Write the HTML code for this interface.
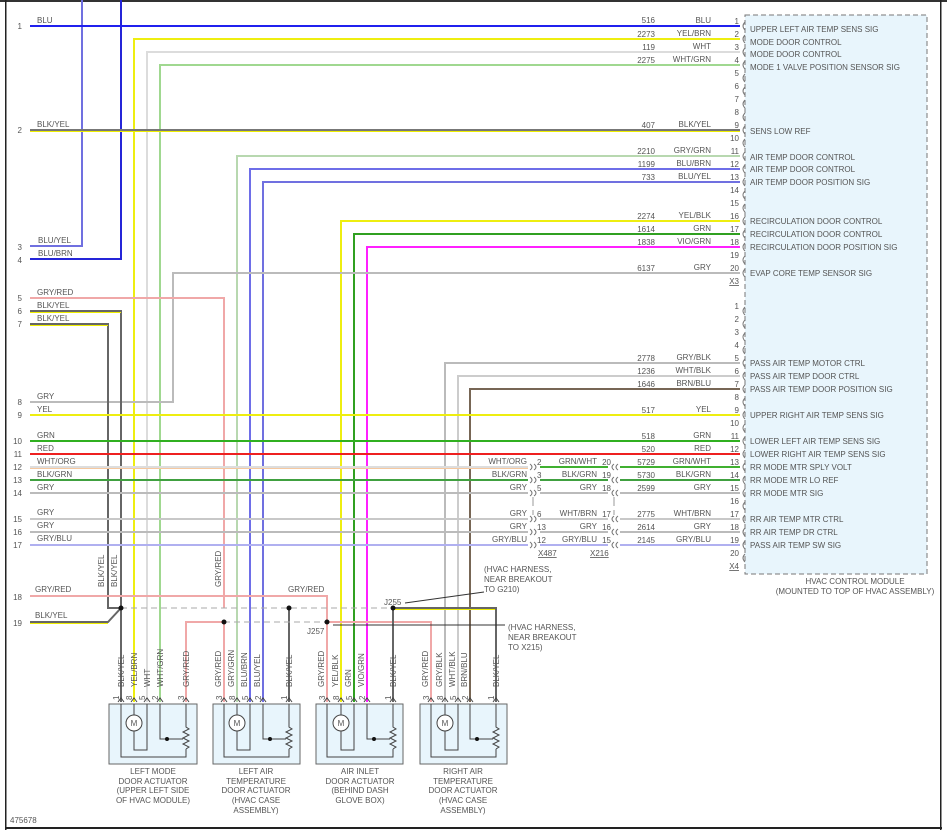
<!DOCTYPE html>
<html><head><meta charset="utf-8"><style>
body{margin:0;background:#fff}
svg{display:block}
text{font-family:"Liberation Sans",sans-serif;font-size:8px;fill:#555}
.e{text-anchor:end}.m{text-anchor:middle}
</style></head><body>
<svg width="947" height="836" viewBox="0 0 947 836" xmlns="http://www.w3.org/2000/svg">
<rect x="0" y="0" width="947" height="2" fill="#333"/>
<rect x="5" y="0" width="1.5" height="830" fill="#222"/>
<rect x="940" y="0" width="1.5" height="830" fill="#222"/>
<rect x="5" y="827" width="937" height="2" fill="#222"/>
<rect x="745" y="15" width="182" height="559" fill="#e8f5fc" stroke="#777" stroke-dasharray="5,3"/>
<g fill="none" stroke-width="2">
<path d="M82 0V246H30" stroke="#7070e0"/>
<path d="M121 0V259H30" stroke="#2525d8"/>
<path d="M30 26H740" stroke="#2020ee"/>
<path d="M740 39H134V702" stroke="#eeee10"/>
<path d="M740 52H147V702" stroke="#dcdcdc"/>
<path d="M740 65H160V702" stroke="#a0d890"/>
<path d="M30 130H740" stroke="#777"/>
<path d="M740 156H237V702" stroke="#b8d8b0"/>
<path d="M740 169H250V702" stroke="#6e6ee8"/>
<path d="M740 182H263V702" stroke="#7070e0"/>
<path d="M740 221H341V702" stroke="#eeee10"/>
<path d="M740 234H354V702" stroke="#30a020"/>
<path d="M740 247H367V702" stroke="#ff20ff"/>
<path d="M740 273H173V402H30" stroke="#bbb"/>
<path d="M30 298H224V608" stroke="#f0a8a8"/>
<path d="M224 622V702" stroke="#f0a8a8"/>
<path d="M30 311H121V702" stroke="#666"/>
<path d="M30 324H108V608H121" stroke="#666"/>
<path d="M30 622H108L121 608" stroke="#666"/>
<path d="M740 363H445V702" stroke="#bbb"/>
<path d="M740 376H458V702" stroke="#ccc"/>
<path d="M740 389H470V702" stroke="#776655"/>
<path d="M30 415H740" stroke="#eeee10"/>
<path d="M30 441H740" stroke="#30b020"/>
<path d="M30 454H740" stroke="#ee2020"/>
<path d="M30 467H528" stroke="#ddd"/><path d="M540 467H608M620 467H740" stroke="#40b030"/>
<path d="M30 480H528M540 480H608M620 480H740" stroke="#40a040"/>
<path d="M30 493H528M540 493H608M620 493H740" stroke="#bbb"/>
<path d="M30 519H528M540 519H608M620 519H740" stroke="#c8c8c8"/>
<path d="M30 532H528M540 532H608M620 532H740" stroke="#bbb"/>
<path d="M30 545H528M540 545H608M620 545H740" stroke="#b0b0f0"/>
<path d="M30 596H327V622" stroke="#f0a8a8"/>
<path d="M224 622H186V702" stroke="#f0a8a8"/>
<path d="M327 622H431V702" stroke="#f0a8a8"/>
<path d="M327 622V702" stroke="#f0a8a8"/>
<path d="M393 608H496V702" stroke="#666"/>
<path d="M289 608V702M393 608V702" stroke="#666"/>
</g>
<g fill="none" stroke-width="1">
<path d="M30 131.5H740M30 312.5H121M30 325.5H108M30 623.5H108M394 609.5H495" stroke="#ee0"/>
<path d="M30 468.5H528" stroke="#f5c8a0"/>
<path d="M121 608H393M224 622H327" stroke="#aaa" stroke-dasharray="6,4"/>
<path d="M533 497V506M533 510V515M614 497V506M614 510V515" stroke="#999"/>
<path d="M484 592L405 603M505 625L333 625" stroke="#333"/>
</g>
<g fill="#111"><circle cx="121" cy="608" r="2.5"/><circle cx="289" cy="608" r="2.5"/><circle cx="393" cy="608" r="2.5"/><circle cx="224" cy="622" r="2.5"/><circle cx="327" cy="622" r="2.5"/></g>
<g fill="none" stroke="#777">
<path d="M745 22q-4 4 0 8M745 35q-4 4 0 8M745 48q-4 4 0 8M745 61q-4 4 0 8M745 74q-4 4 0 8M745 87q-4 4 0 8M745 100q-4 4 0 8M745 113q-4 4 0 8M745 126q-4 4 0 8M745 139q-4 4 0 8M745 152q-4 4 0 8M745 165q-4 4 0 8M745 178q-4 4 0 8M745 191q-4 4 0 8M745 204q-4 4 0 8M745 217q-4 4 0 8M745 230q-4 4 0 8M745 243q-4 4 0 8M745 256q-4 4 0 8M745 269q-4 4 0 8"/>
<path d="M745 307q-4 4 0 8M745 320q-4 4 0 8M745 333q-4 4 0 8M745 346q-4 4 0 8M745 359q-4 4 0 8M745 372q-4 4 0 8M745 385q-4 4 0 8M745 398q-4 4 0 8M745 411q-4 4 0 8M745 424q-4 4 0 8M745 437q-4 4 0 8M745 450q-4 4 0 8M745 463q-4 4 0 8M745 476q-4 4 0 8M745 489q-4 4 0 8M745 502q-4 4 0 8M745 515q-4 4 0 8M745 528q-4 4 0 8M745 541q-4 4 0 8M745 554q-4 4 0 8"/>
<path d="M530 464q4 3 0 6M534 464q4 3 0 6M530 477q4 3 0 6M534 477q4 3 0 6M530 490q4 3 0 6M534 490q4 3 0 6M530 516q4 3 0 6M534 516q4 3 0 6M530 529q4 3 0 6M534 529q4 3 0 6M530 542q4 3 0 6M534 542q4 3 0 6"/>
<path d="M614 464q-4 3 0 6M618 464q-4 3 0 6M614 477q-4 3 0 6M618 477q-4 3 0 6M614 490q-4 3 0 6M618 490q-4 3 0 6M614 516q-4 3 0 6M618 516q-4 3 0 6M614 529q-4 3 0 6M618 529q-4 3 0 6M614 542q-4 3 0 6M618 542q-4 3 0 6"/>
</g>
<g class="e">
<text x="22" y="29" class="e">1</text><text x="22" y="133" class="e">2</text><text x="22" y="250" class="e">3</text><text x="22" y="263" class="e">4</text><text x="22" y="301" class="e">5</text><text x="22" y="314" class="e">6</text><text x="22" y="327" class="e">7</text><text x="22" y="405" class="e">8</text><text x="22" y="418" class="e">9</text><text x="22" y="444" class="e">10</text><text x="22" y="457" class="e">11</text><text x="22" y="470" class="e">12</text><text x="22" y="483" class="e">13</text><text x="22" y="496" class="e">14</text><text x="22" y="522" class="e">15</text><text x="22" y="535" class="e">16</text><text x="22" y="548" class="e">17</text><text x="22" y="600" class="e">18</text><text x="22" y="626" class="e">19</text>
</g>
<text x="37" y="23">BLU</text><text x="37" y="127">BLK/YEL</text><text x="38" y="243">BLU/YEL</text><text x="38" y="256">BLU/BRN</text><text x="37" y="295">GRY/RED</text><text x="37" y="308">BLK/YEL</text><text x="37" y="321">BLK/YEL</text><text x="37" y="399">GRY</text><text x="37" y="412">YEL</text><text x="37" y="438">GRN</text><text x="37" y="451">RED</text><text x="37" y="464">WHT/ORG</text><text x="37" y="477">BLK/GRN</text><text x="37" y="490">GRY</text><text x="37" y="515">GRY</text><text x="37" y="528">GRY</text><text x="37" y="541">GRY/BLU</text><text x="35" y="592">GRY/RED</text><text x="35" y="618">BLK/YEL</text>
<text x="288" y="592">GRY/RED</text><text x="384" y="605">J255</text><text x="307" y="634">J257</text>
<text x="484" y="572">(HVAC HARNESS,</text><text x="484" y="582">NEAR BREAKOUT</text><text x="484" y="592">TO G210)</text>
<text x="508" y="630">(HVAC HARNESS,</text><text x="508" y="640">NEAR BREAKOUT</text><text x="508" y="650">TO X215)</text>
<g transform="rotate(-90)">
<text x="-587" y="104">BLK/YEL</text><text x="-587" y="117">BLK/YEL</text><text x="-587" y="221">GRY/RED</text>
</g>
<g>
<text x="655" y="23" class="e">516</text><text x="711" y="23" class="e">BLU</text>
<text x="655" y="37" class="e">2273</text><text x="711" y="36" class="e">YEL/BRN</text>
<text x="655" y="50" class="e">119</text><text x="711" y="49" class="e">WHT</text>
<text x="655" y="63" class="e">2275</text><text x="711" y="62" class="e">WHT/GRN</text>
<text x="655" y="128" class="e">407</text><text x="711" y="127" class="e">BLK/YEL</text>
<text x="655" y="154" class="e">2210</text><text x="711" y="153" class="e">GRY/GRN</text>
<text x="655" y="167" class="e">1199</text><text x="711" y="166" class="e">BLU/BRN</text>
<text x="655" y="180" class="e">733</text><text x="711" y="179" class="e">BLU/YEL</text>
<text x="655" y="219" class="e">2274</text><text x="711" y="218" class="e">YEL/BLK</text>
<text x="655" y="232" class="e">1614</text><text x="711" y="231" class="e">GRN</text>
<text x="655" y="245" class="e">1838</text><text x="711" y="244" class="e">VIO/GRN</text>
<text x="655" y="271" class="e">6137</text><text x="711" y="270" class="e">GRY</text>
<text x="655" y="361" class="e">2778</text><text x="711" y="360" class="e">GRY/BLK</text>
<text x="655" y="374" class="e">1236</text><text x="711" y="373" class="e">WHT/BLK</text>
<text x="655" y="387" class="e">1646</text><text x="711" y="386" class="e">BRN/BLU</text>
<text x="655" y="413" class="e">517</text><text x="711" y="412" class="e">YEL</text>
<text x="655" y="439" class="e">518</text><text x="711" y="438" class="e">GRN</text>
<text x="655" y="452" class="e">520</text><text x="711" y="451" class="e">RED</text>
<text x="655" y="465" class="e">5729</text><text x="711" y="464" class="e">GRN/WHT</text>
<text x="655" y="478" class="e">5730</text><text x="711" y="477" class="e">BLK/GRN</text>
<text x="655" y="491" class="e">2599</text><text x="711" y="490" class="e">GRY</text>
<text x="655" y="517" class="e">2775</text><text x="711" y="516" class="e">WHT/BRN</text>
<text x="655" y="530" class="e">2614</text><text x="711" y="529" class="e">GRY</text>
<text x="655" y="543" class="e">2145</text><text x="711" y="542" class="e">GRY/BLU</text>
<text x="527" y="464" class="e">WHT/ORG</text><text x="527" y="477" class="e">BLK/GRN</text><text x="527" y="490" class="e">GRY</text><text x="527" y="516" class="e">GRY</text><text x="527" y="529" class="e">GRY</text><text x="527" y="542" class="e">GRY/BLU</text>
<text x="537" y="465">2</text><text x="537" y="478">3</text><text x="537" y="491">5</text><text x="537" y="517">6</text><text x="537" y="530">13</text><text x="537" y="543">12</text>
<text x="597" y="464" class="e">GRN/WHT</text><text x="597" y="477" class="e">BLK/GRN</text><text x="597" y="490" class="e">GRY</text><text x="597" y="516" class="e">WHT/BRN</text><text x="597" y="529" class="e">GRY</text><text x="597" y="542" class="e">GRY/BLU</text>
<text x="611" y="465" class="e">20</text><text x="611" y="478" class="e">19</text><text x="611" y="491" class="e">18</text><text x="611" y="517" class="e">17</text><text x="611" y="530" class="e">16</text><text x="611" y="543" class="e">15</text>
<text x="538" y="556" text-decoration="underline">X487</text><text x="590" y="556" text-decoration="underline">X216</text>
</g>
<g class="e">
<text x="739" y="24" class="e">1</text><text x="739" y="37" class="e">2</text><text x="739" y="50" class="e">3</text><text x="739" y="63" class="e">4</text><text x="739" y="76" class="e">5</text><text x="739" y="89" class="e">6</text><text x="739" y="102" class="e">7</text><text x="739" y="115" class="e">8</text><text x="739" y="128" class="e">9</text><text x="739" y="141" class="e">10</text><text x="739" y="154" class="e">11</text><text x="739" y="167" class="e">12</text><text x="739" y="180" class="e">13</text><text x="739" y="193" class="e">14</text><text x="739" y="206" class="e">15</text><text x="739" y="219" class="e">16</text><text x="739" y="232" class="e">17</text><text x="739" y="245" class="e">18</text><text x="739" y="258" class="e">19</text><text x="739" y="271" class="e">20</text>
<text x="739" y="284" class="e" text-decoration="underline">X3</text>
<text x="739" y="309" class="e">1</text><text x="739" y="322" class="e">2</text><text x="739" y="335" class="e">3</text><text x="739" y="348" class="e">4</text><text x="739" y="361" class="e">5</text><text x="739" y="374" class="e">6</text><text x="739" y="387" class="e">7</text><text x="739" y="400" class="e">8</text><text x="739" y="413" class="e">9</text><text x="739" y="426" class="e">10</text><text x="739" y="439" class="e">11</text><text x="739" y="452" class="e">12</text><text x="739" y="465" class="e">13</text><text x="739" y="478" class="e">14</text><text x="739" y="491" class="e">15</text><text x="739" y="504" class="e">16</text><text x="739" y="517" class="e">17</text><text x="739" y="530" class="e">18</text><text x="739" y="543" class="e">19</text><text x="739" y="556" class="e">20</text>
<text x="739" y="569" class="e" text-decoration="underline">X4</text>
</g>
<g>
<text x="750" y="32">UPPER LEFT AIR TEMP SENS SIG</text><text x="750" y="45">MODE DOOR CONTROL</text><text x="750" y="57">MODE DOOR CONTROL</text><text x="750" y="70">MODE 1 VALVE POSITION SENSOR SIG</text>
<text x="750" y="134">SENS LOW REF</text><text x="750" y="160">AIR TEMP DOOR CONTROL</text><text x="750" y="172">AIR TEMP DOOR CONTROL</text><text x="750" y="185">AIR TEMP DOOR POSITION SIG</text>
<text x="750" y="224">RECIRCULATION DOOR CONTROL</text><text x="750" y="237">RECIRCULATION DOOR CONTROL</text><text x="750" y="250">RECIRCULATION DOOR POSITION SIG</text><text x="750" y="276">EVAP CORE TEMP SENSOR SIG</text>
<text x="750" y="366">PASS AIR TEMP MOTOR CTRL</text><text x="750" y="379">PASS AIR TEMP DOOR CTRL</text><text x="750" y="392">PASS AIR TEMP DOOR POSITION SIG</text><text x="750" y="418">UPPER RIGHT AIR TEMP SENS SIG</text>
<text x="750" y="444">LOWER LEFT AIR TEMP SENS SIG</text><text x="750" y="457">LOWER RIGHT AIR TEMP SENS SIG</text><text x="750" y="470">RR MODE MTR SPLY VOLT</text><text x="750" y="483">RR MODE MTR LO REF</text><text x="750" y="496">RR MODE MTR SIG</text>
<text x="750" y="522">RR AIR TEMP MTR CTRL</text><text x="750" y="535">RR AIR TEMP DR CTRL</text><text x="750" y="548">PASS AIR TEMP SW SIG</text>
<text x="855" y="584" class="m">HVAC CONTROL MODULE</text><text x="855" y="594" class="m">(MOUNTED TO TOP OF HVAC ASSEMBLY)</text>
<text x="10" y="823">475678</text>
</g>
<g>
<g transform="rotate(-90)">
<text x="-687" y="124">BLK/YEL</text><text x="-687" y="137">YEL/BRN</text><text x="-687" y="150">WHT</text><text x="-687" y="163">WHT/GRN</text><text x="-687" y="189">GRY/RED</text>
<text x="-687" y="221">GRY/RED</text><text x="-687" y="234">GRY/GRN</text><text x="-687" y="247">BLU/BRN</text><text x="-687" y="260">BLU/YEL</text><text x="-687" y="292">BLK/YEL</text>
<text x="-687" y="324">GRY/RED</text><text x="-687" y="338">YEL/BLK</text><text x="-687" y="351">GRN</text><text x="-687" y="364">VIO/GRN</text><text x="-687" y="396">BLK/YEL</text>
<text x="-687" y="428">GRY/RED</text><text x="-687" y="442">GRY/BLK</text><text x="-687" y="455">WHT/BLK</text><text x="-687" y="467">BRN/BLU</text><text x="-687" y="499">BLK/YEL</text>
<text x="-700" y="119">1</text><text x="-700" y="132">8</text><text x="-700" y="145">5</text><text x="-700" y="158">2</text><text x="-700" y="184">3</text>
<text x="-700" y="222">3</text><text x="-700" y="235">8</text><text x="-700" y="248">5</text><text x="-700" y="261">2</text><text x="-700" y="287">1</text>
<text x="-700" y="325">3</text><text x="-700" y="339">8</text><text x="-700" y="352">5</text><text x="-700" y="365">2</text><text x="-700" y="391">1</text>
<text x="-700" y="429">3</text><text x="-700" y="443">8</text><text x="-700" y="456">5</text><text x="-700" y="468">2</text><text x="-700" y="494">1</text>
</g>
<g fill="#e8f5fc" stroke="#666"><rect x="109" y="704" width="88" height="60"/><rect x="213" y="704" width="87" height="60"/><rect x="316" y="704" width="87" height="60"/><rect x="420" y="704" width="87" height="60"/></g>
<g fill="none" stroke="#444" stroke-width="1">
<path d="M118 702l3-4 3 4M131 702l3-4 3 4M144 702l3-4 3 4M157 702l3-4 3 4M183 702l3-4 3 4"/>
<path d="M221 702l3-4 3 4M234 702l3-4 3 4M247 702l3-4 3 4M260 702l3-4 3 4M286 702l3-4 3 4"/>
<path d="M324 702l3-4 3 4M338 702l3-4 3 4M351 702l3-4 3 4M364 702l3-4 3 4M390 702l3-4 3 4"/>
<path d="M428 702l3-4 3 4M442 702l3-4 3 4M455 702l3-4 3 4M467 702l3-4 3 4M493 702l3-4 3 4"/>
<path d="M121 704V757H186V749M186 704V727l3 2-6 3 6 3-6 3 6 3-6 3 6 3-3 2M134 704V715M134 731V750H147V704M160 704V739H183"/>
<path d="M224 704V757H289V749M289 704V727l3 2-6 3 6 3-6 3 6 3-6 3 6 3-3 2M237 704V715M237 731V750H250V704M263 704V739H286"/>
<path d="M327 704V757H393V749M393 704V727l3 2-6 3 6 3-6 3 6 3-6 3 6 3-3 2M341 704V715M341 731V750H354V704M367 704V739H390"/>
<path d="M431 704V757H496V749M496 704V727l3 2-6 3 6 3-6 3 6 3-6 3 6 3-3 2M445 704V715M445 731V750H458V704M470 704V739H493"/>
<circle cx="134" cy="723" r="8" fill="#fff"/><circle cx="237" cy="723" r="8" fill="#fff"/><circle cx="341" cy="723" r="8" fill="#fff"/><circle cx="445" cy="723" r="8" fill="#fff"/>
</g>
<g fill="#111"><circle cx="167" cy="739" r="2"/><circle cx="270" cy="739" r="2"/><circle cx="374" cy="739" r="2"/><circle cx="477" cy="739" r="2"/></g>
<text x="134" y="726" class="m">M</text><text x="237" y="726" class="m">M</text><text x="341" y="726" class="m">M</text><text x="445" y="726" class="m">M</text>
<g class="m">
<text x="153" y="774" class="m">LEFT MODE</text><text x="153" y="784" class="m">DOOR ACTUATOR</text><text x="153" y="793" class="m">(UPPER LEFT SIDE</text><text x="153" y="803" class="m">OF HVAC MODULE)</text>
<text x="256" y="774" class="m">LEFT AIR</text><text x="256" y="784" class="m">TEMPERATURE</text><text x="256" y="793" class="m">DOOR ACTUATOR</text><text x="256" y="803" class="m">(HVAC CASE</text><text x="256" y="813" class="m">ASSEMBLY)</text>
<text x="360" y="774" class="m">AIR INLET</text><text x="360" y="784" class="m">DOOR ACTUATOR</text><text x="360" y="793" class="m">(BEHIND DASH</text><text x="360" y="803" class="m">GLOVE BOX)</text>
<text x="463" y="774" class="m">RIGHT AIR</text><text x="463" y="784" class="m">TEMPERATURE</text><text x="463" y="793" class="m">DOOR ACTUATOR</text><text x="463" y="803" class="m">(HVAC CASE</text><text x="463" y="813" class="m">ASSEMBLY)</text>
</g>
</g>
</svg>
</body></html>
